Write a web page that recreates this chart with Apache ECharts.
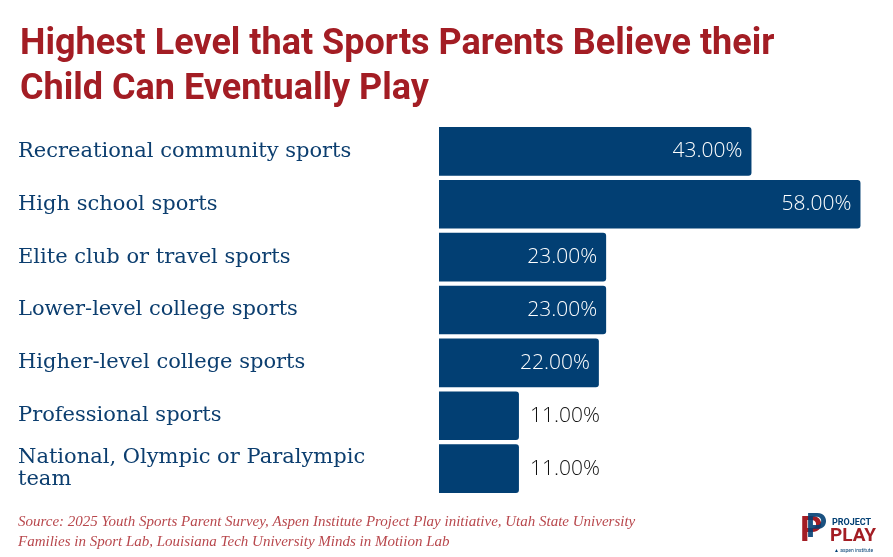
<!DOCTYPE html>
<html>
<head>
<meta charset="utf-8">
<script src="https://cdn.jsdelivr.net/npm/echarts@6/dist/echarts.min.js"></script>
<style>
  html, body { margin: 0; padding: 0; background: #fff; }
  #chart { width: 893px; height: 557px; }
</style>
</head>
<body>
<div id="chart"></div>
<script>
// categories, top to bottom
var levels = [
    'Recreational community sports',
    'High school sports',
    'Elite club or travel sports',
    'Lower-level college sports',
    'Higher-level college sports',
    'Professional sports',
    'National, Olympic or Paralympic\nteam'
];
// share of parents (%)
var shares = [43, 58, 23, 23, 22, 11, 11];

var titleLines = ['Highest Level that Sports Parents Believe their', 'Child Can Eventually Play'];
var sourceLines = [
    'Source: 2025 Youth Sports Parent Survey, Aspen Institute Project Play initiative, Utah State University',
    'Families in Sport Lab, Louisiana Tech University Minds in Motiion Lab'
];

var NAVY = '#023f73';
var RED = '#a31d24';

var chart = echarts.init(document.getElementById('chart'));

var barData = shares.map(function (v) {
    var inside = v > 15;
    return {
        value: v,
        label: {
            position: inside ? 'insideRight' : 'right',
            distance: inside ? 9 : 11,
            color: inside ? '#ffffff' : '#111111'
        }
    };
});

var option = {
    animation: false,
    backgroundColor: '#ffffff',
    title: {
        text: titleLines.join('\n'),
        left: 15,
        top: 17,
        textStyle: {
            fontFamily: 'Roboto',
            fontWeight: 'bold',
            fontSize: 36,
            lineHeight: 45,
            color: RED
        }
    },
    grid: {
        left: 439,
        right: 18,
        top: 125,
        bottom: 62,
        containLabel: false
    },
    xAxis: {
        type: 'value',
        min: 0,
        max: 60,
        show: false
    },
    yAxis: {
        type: 'category',
        data: levels,
        inverse: true,
        axisLine: { show: false },
        axisTick: { show: false },
        axisLabel: {
            align: 'left',
            margin: 421,
            fontFamily: 'DejaVu Serif',
            fontSize: 21,
            lineHeight: 22,
            color: '#0c3e6f'
        }
    },
    series: [{
        type: 'bar',
        data: barData,
        barCategoryGap: '8%',
        itemStyle: {
            color: NAVY,
            borderRadius: [0, 3, 3, 0]
        },
        label: {
            show: true,
            fontFamily: 'Open Sans',
            fontWeight: 300,
            fontSize: 21,
            formatter: function (p) { return p.value.toFixed(2) + '%'; }
        }
    }],
    graphic: [
        {
            type: 'text',
            left: 18,
            top: 512,
            style: {
                text: sourceLines.join('\n'),
                font: 'italic 15px "Liberation Serif"',
                lineHeight: 20,
                fill: '#b8474c'
            }
        },
        // logo mark
        {
            type: 'text',
            left: 800,
            top: 515,
            style: { text: 'P', font: 'bold 35px "Roboto"', fill: RED }
        },
        {
            type: 'text',
            left: 806,
            top: 512,
            style: { text: 'P', font: 'bold 33px "Roboto"', fill: NAVY, opacity: 0.9 }
        },
        {
            type: 'text',
            left: 832,
            top: 518,
            style: { text: 'PROJECT', font: 'bold 9px "Roboto"', fill: NAVY }
        },
        {
            type: 'text',
            left: 830,
            top: 527,
            style: { text: 'PLAY', font: 'bold 19px "Roboto"', fill: RED }
        },
        {
            type: 'text',
            left: 834,
            top: 548,
            style: { text: '\u25B2 aspen institute', font: '5px "Roboto"', fill: NAVY }
        }
    ]
};

chart.setOption(option);
</script>
</body>
</html>
